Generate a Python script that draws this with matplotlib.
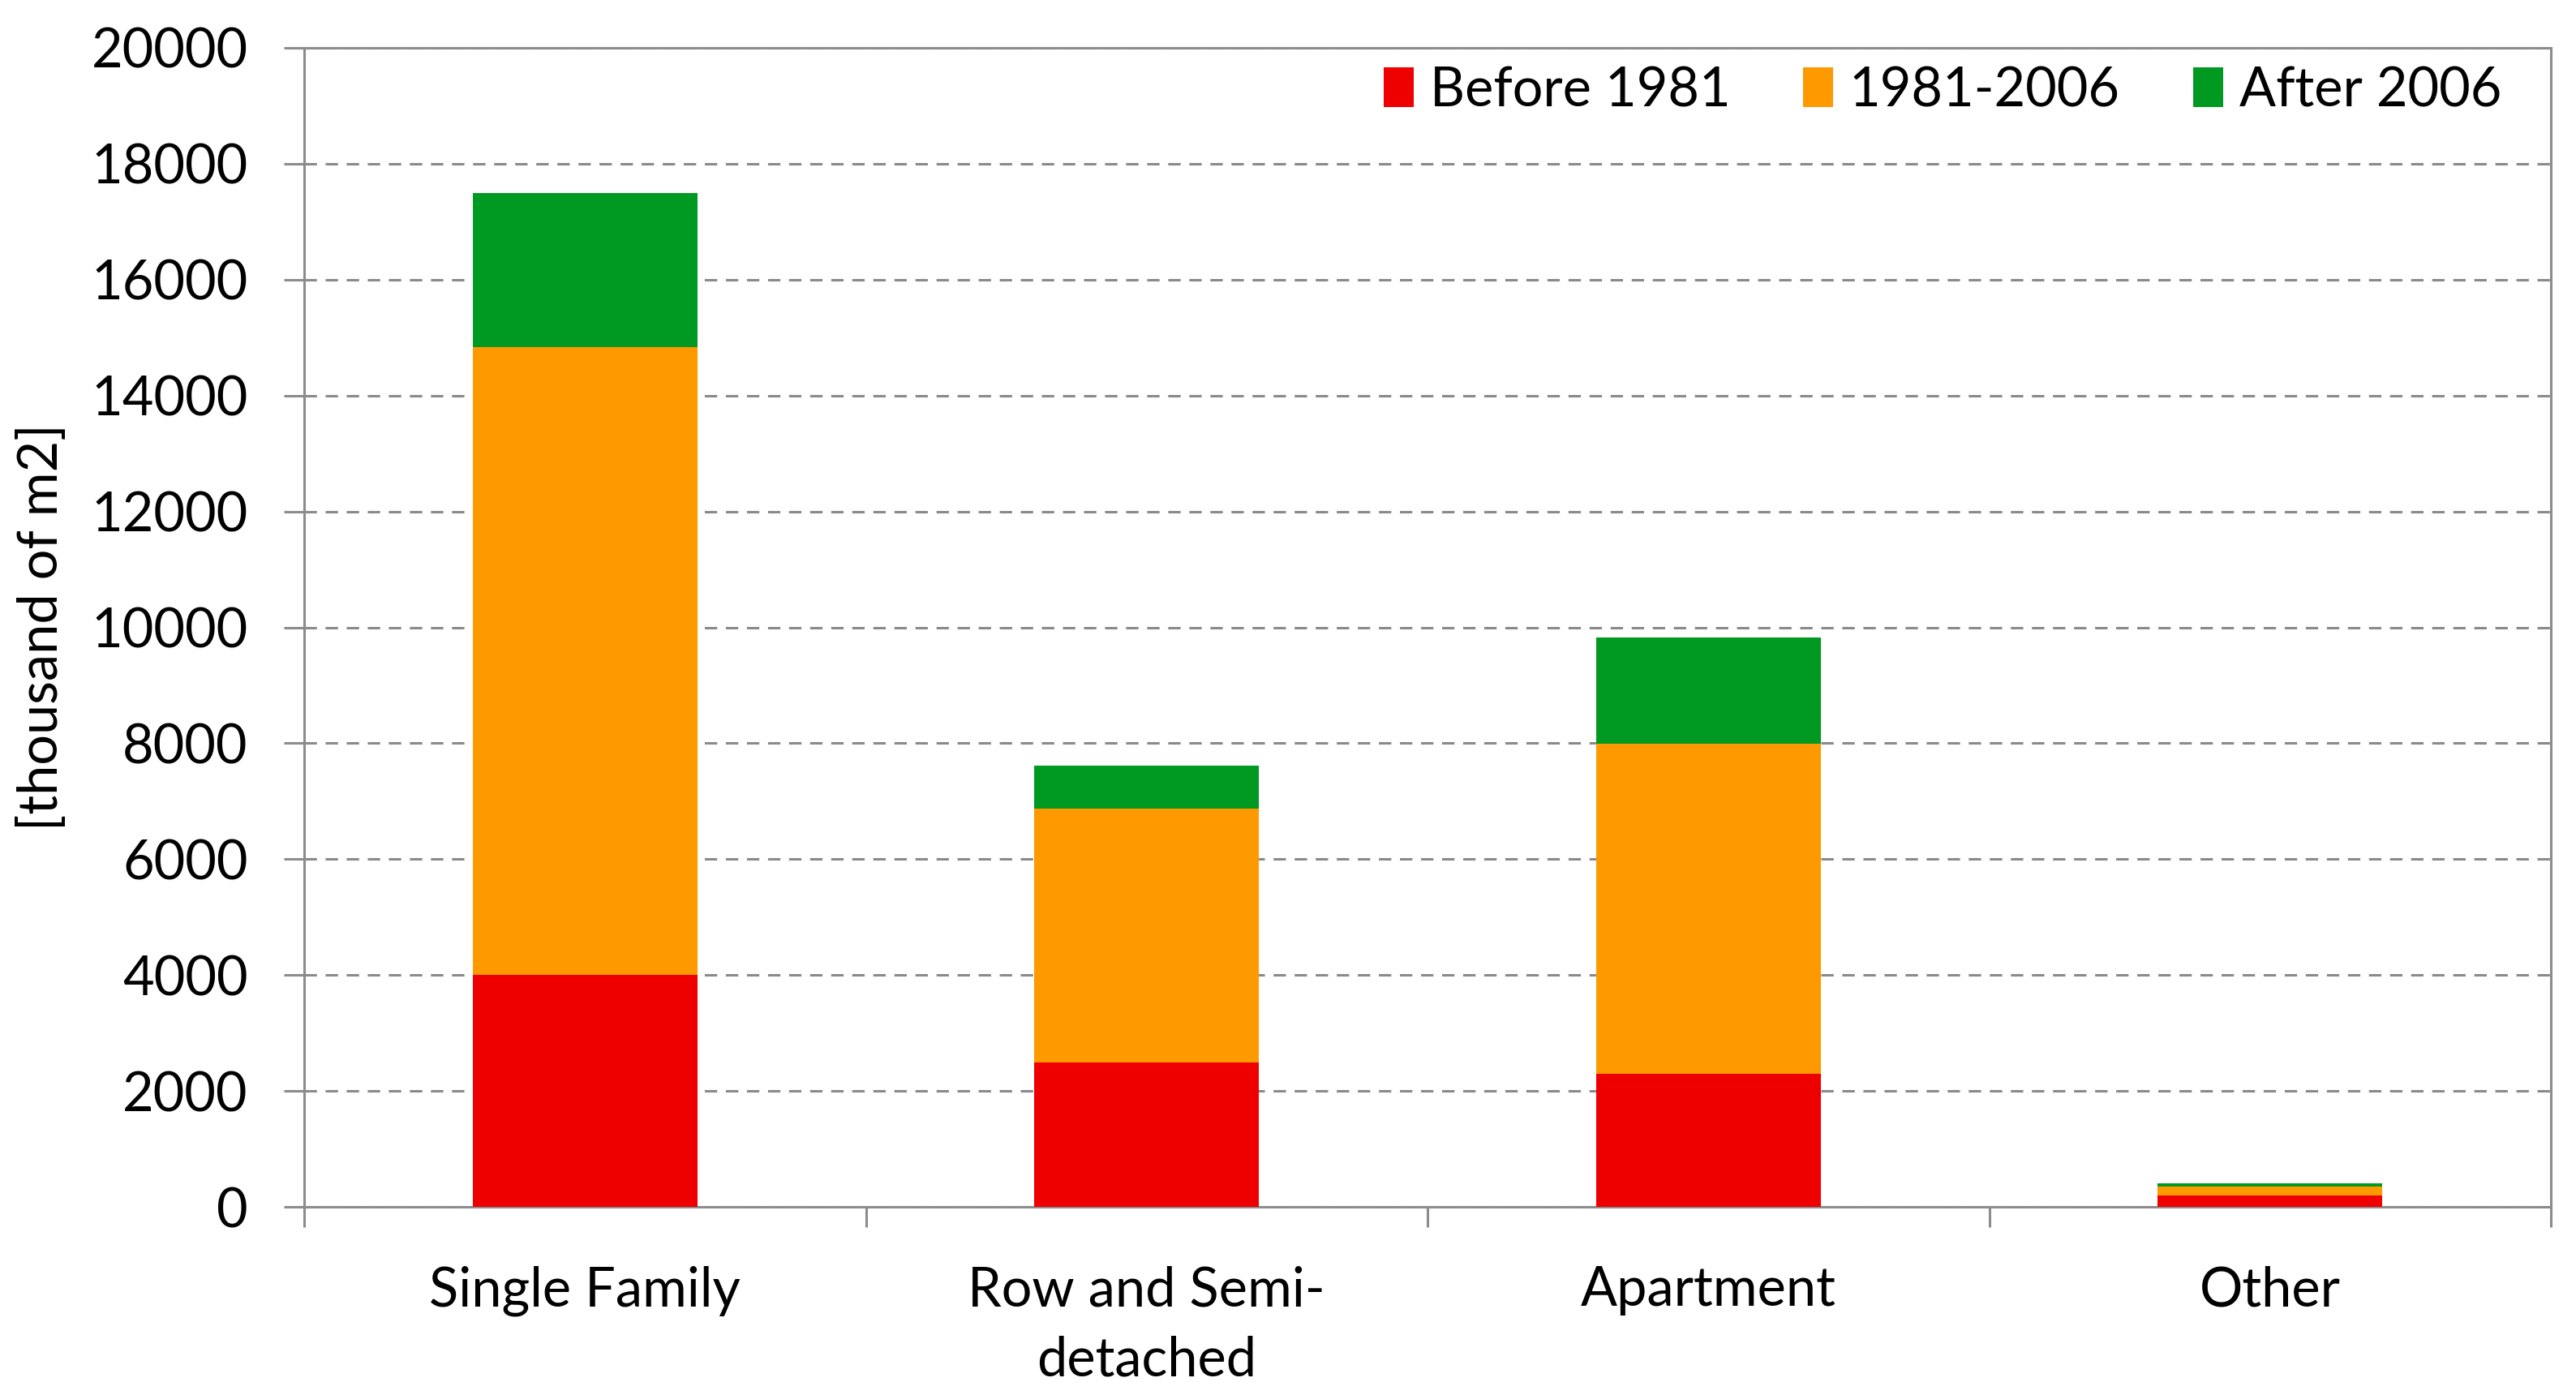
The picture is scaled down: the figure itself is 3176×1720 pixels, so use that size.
import numpy as np
import matplotlib.pyplot as plt
from matplotlib.ticker import FixedLocator

plt.rcParams['font.family'] = ['Lato', 'DejaVu Sans']

# data (thousand of m2)
categories = ['Single Family', 'Row and Semi-\ndetached', 'Apartment', 'Other']
before_1981 = [4000, 2490, 2290, 200]
from_1981_2006 = [10830, 4380, 5700, 150]
after_2006 = [2660, 750, 1840, 60]
series_names = ['Before 1981', '1981-2006', 'After 2006']
colors = ['#EE0000', '#FF9900', '#009A22']

fig = plt.figure(figsize=(15.88, 8.6), dpi=200)
ax = fig.add_axes([375 / 3176, 1 - 1488 / 1720, (3145 - 375) / 3176, (1488 - 59) / 1720])

x = np.arange(len(categories))
width = 0.4
bottom = np.zeros(len(categories))
for vals, name, col in zip([before_1981, from_1981_2006, after_2006], series_names, colors):
    ax.bar(x, vals, width, bottom=bottom, color=col, label=name, zorder=3)
    bottom += np.array(vals)

ax.set_xlim(-0.5, len(categories) - 0.5)
ax.set_ylim(0, 20000)
ax.set_yticks(np.arange(0, 20001, 2000))
ax.yaxis.grid(True, color='#8a8a8a', linestyle=(0, (5, 3.5)), linewidth=1.1, zorder=0)

grey = '#8c8c8c'
for sp in ax.spines.values():
    sp.set_color(grey)
    sp.set_linewidth(1.1)

ax.set_xticks(x)
ax.set_xticklabels(categories, fontsize=24, linespacing=1.48)
ax.xaxis.set_minor_locator(FixedLocator(np.arange(-0.5, len(categories), 1)))
ax.tick_params(axis='x', which='major', length=0, pad=26)
ax.tick_params(axis='x', which='minor', length=9, width=1.1, color=grey, direction='out')
ax.tick_params(axis='y', length=9, width=1.1, color=grey, labelsize=24, pad=16)

fig.text(52 / 3176, 1 - 773 / 1720, '[thousand of m2]', rotation=90,
         ha='center', va='center', fontsize=24)

leg = ax.legend(loc='center right', bbox_to_anchor=(3084 / 3176, 1 - 112 / 1720),
                bbox_transform=fig.transFigure, ncol=3, frameon=False, fontsize=24,
                handlelength=0.55, handleheight=0.75, handletextpad=0.3,
                columnspacing=1.35, borderaxespad=0, borderpad=0)

fig.savefig('out.png', dpi=200)
